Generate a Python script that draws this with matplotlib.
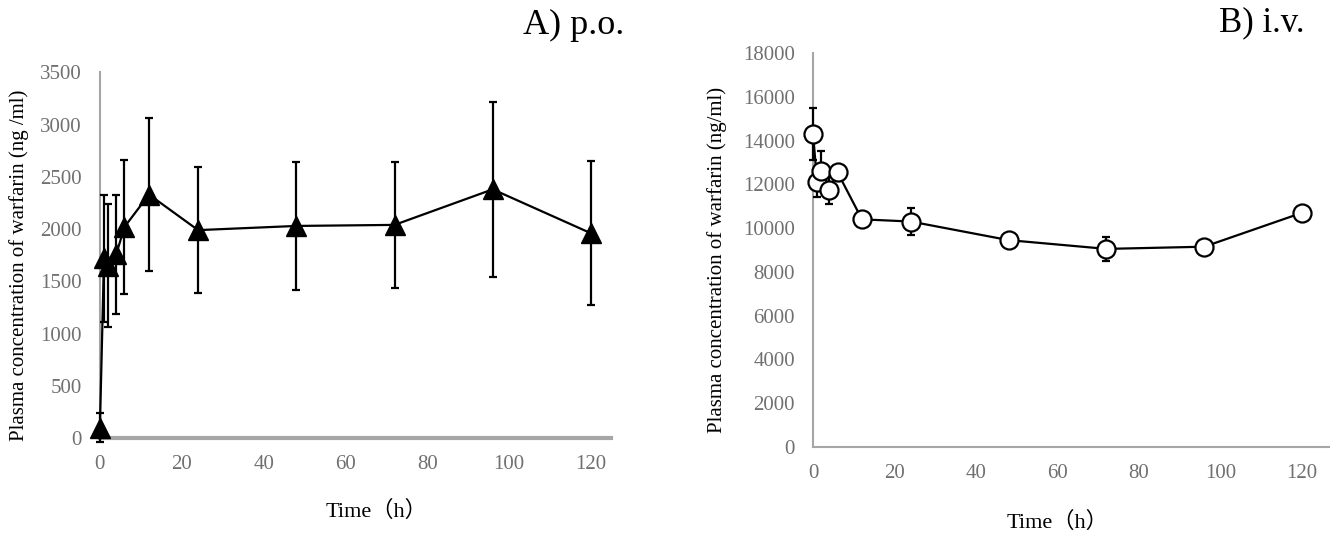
import matplotlib.pyplot as plt

plt.rcParams['font.family'] = ['Liberation Serif', 'Noto Sans CJK JP']

time_h = [0, 1, 2, 4, 6, 12, 24, 48, 72, 96, 120]

po_conc = [100, 1720, 1650, 1760, 2020, 2330, 1990, 2030, 2040, 2380, 1960]
po_err = [140, 610, 590, 570, 640, 730, 600, 615, 600, 835, 690]

iv_conc = [14300, 12100, 12600, 11750, 12550, 10400, 10300, 9450, 9050, 9150, 10700]
iv_err = [1200, 700, 900, 650, 200, 300, 600, 100, 550, 150, 150]

ylabel = 'Plasma concentration of warfarin (ng /ml)'
ylabel_iv = 'Plasma concentration of warfarin (ng/ml)'
tick_color = '#707070'
spine_color = '#a6a6a6'

fig = plt.figure(figsize=(13.32, 5.39), dpi=100)
ax1 = fig.add_axes([0.075, 0.187, 0.384, 0.679])
ax2 = fig.add_axes([0.6104, 0.1707, 0.387, 0.731])


def style(ax):
    for s in ['top', 'right']:
        ax.spines[s].set_visible(False)
    for s in ['left', 'bottom']:
        ax.spines[s].set_color(spine_color)
        ax.spines[s].set_linewidth(1.5)
    ax.tick_params(length=0, labelsize=15, labelcolor=tick_color)
    ax.tick_params(axis='y', pad=13)
    ax.tick_params(axis='x', pad=12)
    ax.set_xticks(range(0, 121, 20))


# A) p.o.
ax1.errorbar(time_h, po_conc, yerr=po_err, color='black', lw=1.6,
             marker='^', markersize=14, elinewidth=1.6, capsize=3, capthick=1.6,
             clip_on=False, zorder=3)
ax1.set_xlim(0, 125)
ax1.set_ylim(0, 3500)
ax1.set_yticks(range(0, 3501, 500))
style(ax1)
ax1.spines['bottom'].set_linewidth(3)
ax1.set_ylabel(ylabel, fontsize=15)
ax1.yaxis.set_label_coords(-0.138, 0.473)
ax1.set_xlabel('Time（h）', fontsize=16)
ax1.xaxis.set_label_coords(0.54, -0.172)
fig.text(0.469, 0.953, 'A) p.o.', fontsize=26, ha='right', va='center')

# B) i.v.
ax2.errorbar(time_h, iv_conc, yerr=iv_err, color='black', lw=1.6,
             marker='o', markersize=13, markerfacecolor='white', markeredgewidth=1.6,
             elinewidth=1.6, capsize=3, capthick=1.6, clip_on=False, zorder=3)
ax2.set_xlim(0, 126.5)
ax2.set_ylim(0, 18000)
ax2.set_yticks(range(0, 18001, 2000))
style(ax2)
ax2.set_ylabel(ylabel_iv, fontsize=15)
ax2.yaxis.set_label_coords(-0.166, 0.475)
ax2.set_xlabel('Time（h）', fontsize=16)
ax2.xaxis.set_label_coords(0.475, -0.165)
fig.text(0.979, 0.958, 'B) i.v.', fontsize=25, ha='right', va='center')

fig.savefig('out.png', dpi=100)
